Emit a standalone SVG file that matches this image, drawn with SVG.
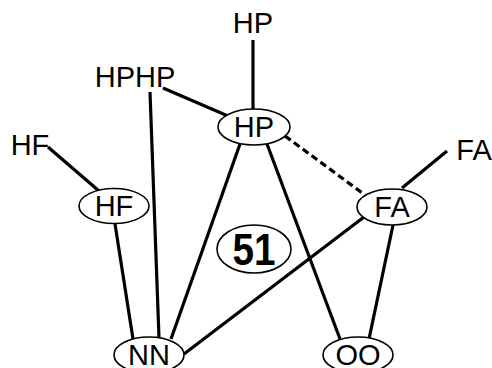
<svg xmlns="http://www.w3.org/2000/svg" width="492" height="368" viewBox="0 0 492 368">
  <style>
    .edge { stroke: #000; stroke-width: 3.2; fill: none; }
    .dash { stroke-dasharray: 7 4; }
    .node ellipse { fill: #fff; stroke: #000; stroke-width: 1.6; }
    .lbl { font-family: "Liberation Sans", Arial, sans-serif; font-size: 29px; fill: #000; text-anchor: middle; }
    .big { font-family: "Liberation Sans", Arial, sans-serif; font-size: 44px; font-weight: bold; fill: #000; text-anchor: middle; }
  </style>
  <rect width="492" height="368" fill="#fff"/>

  <g id="connectors">
    <line class="edge" x1="253" y1="40" x2="253" y2="112"/>
    <line class="edge" x1="163" y1="88" x2="228" y2="116"/>
    <line class="edge" x1="150" y1="92" x2="159" y2="338"/>
    <line class="edge" x1="48" y1="147" x2="99" y2="191"/>
    <line class="edge" x1="115" y1="224" x2="133" y2="339"/>
    <line class="edge" x1="240" y1="144" x2="171" y2="339"/>
    <line class="edge" x1="267" y1="144" x2="340" y2="339"/>
    <line class="edge dash" x1="285" y1="136" x2="365" y2="195"/>
    <line class="edge" x1="447" y1="151" x2="402" y2="188"/>
    <line class="edge" x1="364" y1="217" x2="184" y2="354"/>
    <line class="edge" x1="393" y1="225" x2="369" y2="339"/>
  </g>

  <g id="label-hp-top"><text class="lbl" x="253" y="33">HP</text></g>
  <g id="label-hphp"><text class="lbl" x="135" y="87">HPHP</text></g>
  <g id="label-hf"><text class="lbl" x="30" y="155">HF</text></g>
  <g id="label-fa"><text class="lbl" x="474" y="160">FA</text></g>

  <g id="node-hp" class="node">
    <ellipse cx="254" cy="127" rx="36" ry="18"/>
    <text class="lbl" x="254" y="137">HP</text>
  </g>
  <g id="node-hf" class="node">
    <ellipse cx="114" cy="206" rx="35" ry="17.5"/>
    <text class="lbl" x="114" y="216">HF</text>
  </g>
  <g id="node-fa" class="node">
    <ellipse cx="392" cy="207" rx="35" ry="18"/>
    <text class="lbl" x="392" y="217">FA</text>
  </g>
  <g id="node-51" class="node">
    <ellipse cx="254" cy="249" rx="37" ry="24"/>
    <text class="big" x="254" y="265" textLength="43" lengthAdjust="spacingAndGlyphs">51</text>
  </g>
  <g id="node-nn" class="node">
    <ellipse cx="149" cy="355" rx="35" ry="18"/>
    <text class="lbl" x="149" y="365">NN</text>
  </g>
  <g id="node-oo" class="node">
    <ellipse cx="358" cy="355" rx="35" ry="18"/>
    <text class="lbl" x="358" y="365">OO</text>
  </g>
</svg>
